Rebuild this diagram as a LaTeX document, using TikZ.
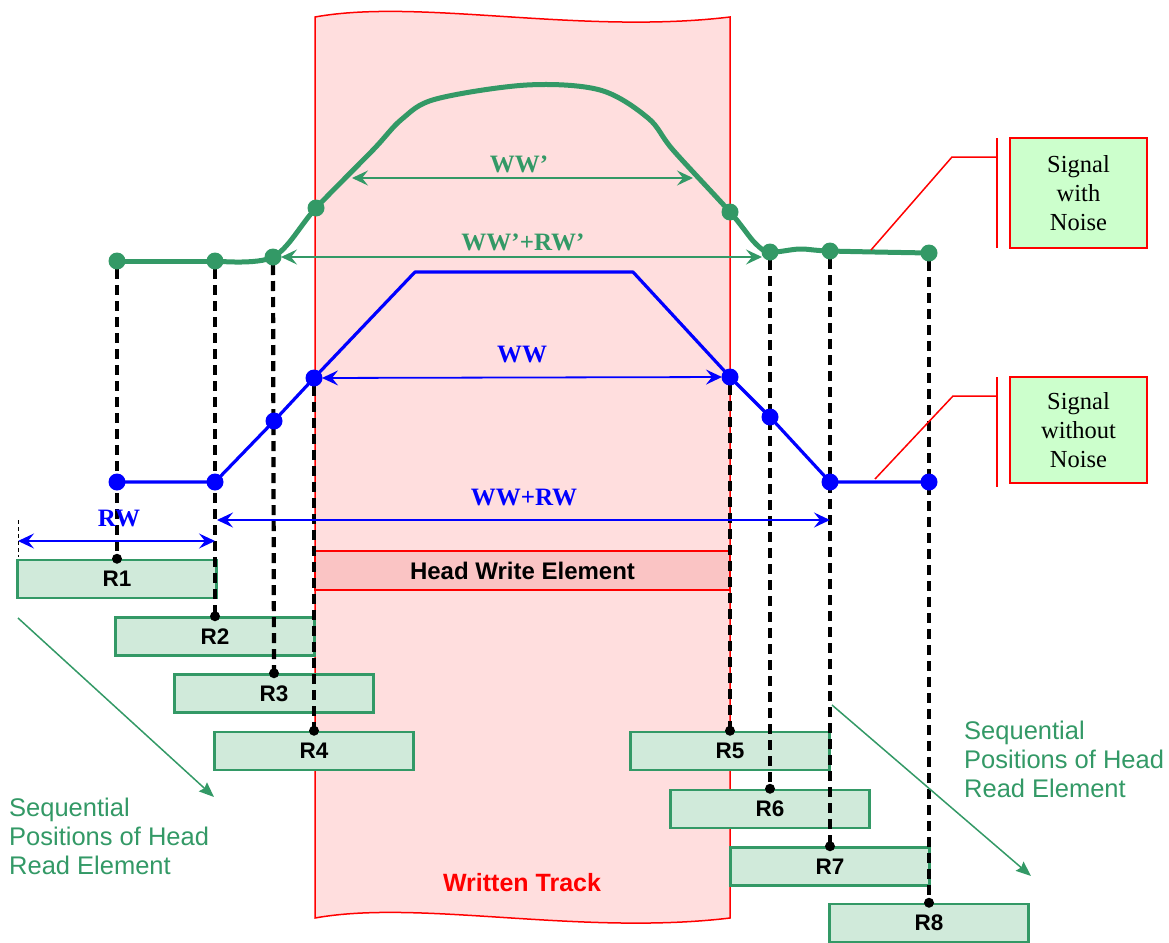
\documentclass[tikz,border=0pt]{standalone}
\usepackage{fontspec}
\setmainfont{Liberation Serif}
\setsansfont{Liberation Sans}
\usetikzlibrary{arrows.meta}
\definecolor{sgreen}{RGB}{51,153,102}
\definecolor{trackfill}{RGB}{255,222,222}
\definecolor{headfill}{RGB}{250,196,196}
\definecolor{rfill}{RGB}{208,234,218}
\definecolor{lblfill}{RGB}{204,255,204}
\begin{document}
\begin{tikzpicture}[x=1pt,y=-1pt,
  rbox/.style={draw=sgreen, line width=2.5pt, fill=rfill, minimum width=199pt, minimum height=38pt, inner sep=0pt, font=\sffamily\bfseries\fontsize{22.5}{26}\selectfont},
  vline/.style={line width=4.2pt, dash pattern=on 10pt off 6pt},
  bigarrow/.style={line width=1.8pt, {Stealth[length=16pt,width=15pt,inset=6pt]}-{Stealth[length=16pt,width=15pt,inset=6pt]}},
  garr/.style={bigarrow, draw=sgreen, fill=sgreen},
  barr/.style={bigarrow, draw=blue, fill=blue},
  glabel/.style={text=sgreen, font=\rmfamily\bfseries\fontsize{25}{29}\selectfont, inner sep=0pt},
  blabel/.style={text=blue, font=\rmfamily\bfseries\fontsize{25}{29}\selectfont, inner sep=0pt},
  sbox/.style={draw=red, line width=1.5pt, fill=lblfill, minimum width=137pt, align=center, inner sep=0pt, font=\rmfamily\fontsize{24.5}{29}\selectfont},
  callout/.style={draw=red, line width=1.5pt},
  seqtext/.style={text=sgreen, align=left, inner sep=0pt, anchor=west, font=\sffamily\fontsize{25.5}{29}\selectfont},
  seqarrow/.style={draw=sgreen, line width=1.5pt, -{Stealth[length=15pt,width=12pt,inset=2pt]}}
]
\useasboundingbox (0,0) rectangle (1169,942);

% written track
\path[fill=trackfill, draw=red, line width=1.5pt] (315,17) .. controls (420,-2) and (580,35) .. (730,17) -- (730,918) .. controls (580,936) and (420,899) .. (315,918) -- cycle;
\node[text=red, font=\sffamily\bfseries\fontsize{25}{29}\selectfont, inner sep=0pt] (wt) at (522,883) {Written Track};

% head write element
\node[draw=red, line width=2.5pt, fill=headfill, minimum width=415pt, minimum height=39pt, inner sep=0pt, font=\sffamily\bfseries\fontsize{24}{28}\selectfont] (hwe) at (522.5,570.5) {Head Write Element};

% read element boxes
\node[rbox] (r1) at (117,579) {R1};
\node[rbox] (r2) at (215,636.5) {R2};
\node[rbox] (r3) at (274,693.5) {R3};
\node[rbox] (r4) at (314,751) {R4};
\node[rbox] (r5) at (730,751) {R5};
\node[rbox] (r6) at (770,809) {R6};
\node[rbox] (r7) at (830,866.5) {R7};
\node[rbox] (r8) at (929,923) {R8};

% signal points
\coordinate (g1) at (117,261);
\coordinate (g2) at (215,261);
\coordinate (g3) at (273,257);
\coordinate (g4) at (316,208);
\coordinate (g5) at (730,212);
\coordinate (g6) at (770,252);
\coordinate (g7) at (830,251);
\coordinate (g8) at (929,253);
\coordinate (b1) at (117,482);
\coordinate (b2) at (215,482);
\coordinate (b3) at (274,421);
\coordinate (b4) at (314,378);
\coordinate (bt1) at (415,272);
\coordinate (bt2) at (633,272);
\coordinate (b5) at (730,377);
\coordinate (b6) at (770,417);
\coordinate (b7) at (830,482);
\coordinate (b8) at (929,482);

% signal with noise
\draw[sgreen, line width=5pt, line join=round] (g1) -- (g2);
\draw[sgreen, line width=5pt, line join=round] plot[smooth, tension=0.55] coordinates {(215,261) (273,257) (316,208) (373,150) (402,119) (436,99) (527,85) (600,90) (648,118) (673,150) (730,212) (755,243) (770,252) (800,249) (830,251) (929,253)};
% signal without noise
\draw[blue, line width=3.2pt, line join=round] (b1) -- (b2) -- (b3) -- (b4) -- (bt1) -- (bt2) -- (b5) -- (b6) -- (b7) -- (b8);

% dashed verticals
\draw[vline, shorten <=8pt] (g1) -- (r1.north);
\draw[vline, shorten <=8pt] (g2) -- (r2.north);
\draw[vline, shorten <=8pt] (g3) -- (r3.north);
\draw[vline, shorten <=8pt] (b4) -- (r4.north);
\draw[vline, shorten <=8pt] (b5) -- (r5.north);
\draw[vline, shorten <=8pt] (g6) -- (r6.north);
\draw[vline, shorten <=8pt] (g7) -- (r7.north);
\draw[vline, shorten <=8pt] (g8) -- (r8.north);
\foreach \n in {r1,r2,r3,r4,r5,r6,r7,r8} \fill (\n.north) circle (5pt);

% dots
\foreach \p in {g1,g2,g3,g4,g5,g6,g7,g8} \fill[sgreen] (\p) circle (8.5pt);
\foreach \p in {b1,b2,b3,b4,b5,b6,b7,b8} \fill[blue] (\p) circle (8.5pt);

% width arrows
\coordinate (wpa) at (352,178);
\coordinate (wpb) at (693,178);
\draw[garr] (wpa) -- (wpb);
\draw[garr, shorten <=8pt, shorten >=8pt] (g3) -- (g3 -| g6);
\draw[barr, shorten <=8pt, shorten >=8pt] (b4) -- (b5);
\coordinate (wra) at (217,520);
\coordinate (wrb) at (830,520);
\draw[barr] (wra) -- (wrb);
\coordinate (rwa) at (18,541);
\coordinate (rwb) at (215,541);
\draw[barr] (rwa) -- (rwb);
\coordinate (rwt) at (18,520);
\coordinate (rwu) at (18,557);
\draw[line width=0.8pt, dash pattern=on 4pt off 3pt] (rwt) -- (rwu);

\node[glabel] (lwwp) at (519,164) {WW'};
\node[glabel] (lwwrwp) at (523,242) {WW'+RW'};
\node[blabel] (lww) at (522,355) {WW};
\node[blabel] (lwwrw) at (524,497) {WW+RW};
\node[blabel] (lrw) at (119,518) {RW};

% legend boxes and callouts
\node[sbox, minimum height=110pt] (swn) at (1078.5,193) {Signal\\with\\Noise};
\node[sbox, minimum height=106pt] (swo) at (1078.5,430) {Signal\\without\\Noise};
\coordinate (c1a) at (871,250);
\coordinate (c1b) at (952,157);
\coordinate (c1c) at (997,157);
\coordinate (c1t) at (997,138);
\coordinate (c1u) at (997,248);
\draw[callout] (c1a) -- (c1b) -- (c1c);
\draw[callout] (c1t) -- (c1u);
\coordinate (c2a) at (875,479);
\coordinate (c2b) at (953,396);
\coordinate (c2c) at (997,396);
\coordinate (c2t) at (997,377);
\coordinate (c2u) at (997,487);
\draw[callout] (c2a) -- (c2b) -- (c2c);
\draw[callout] (c2t) -- (c2u);

% sequential positions
\node[seqtext] (seql) at (9,836) {Sequential\\Positions of Head\\Read Element};
\node[seqtext] (seqr) at (964,759) {Sequential\\Positions of Head\\Read Element};
\coordinate (sa1) at (18,618);
\coordinate (sa2) at (214,797);
\draw[seqarrow] (sa1) -- (sa2);
\coordinate (sb1) at (832,705);
\coordinate (sb2) at (1031,876);
\draw[seqarrow] (sb1) -- (sb2);
\end{tikzpicture}
\end{document}
